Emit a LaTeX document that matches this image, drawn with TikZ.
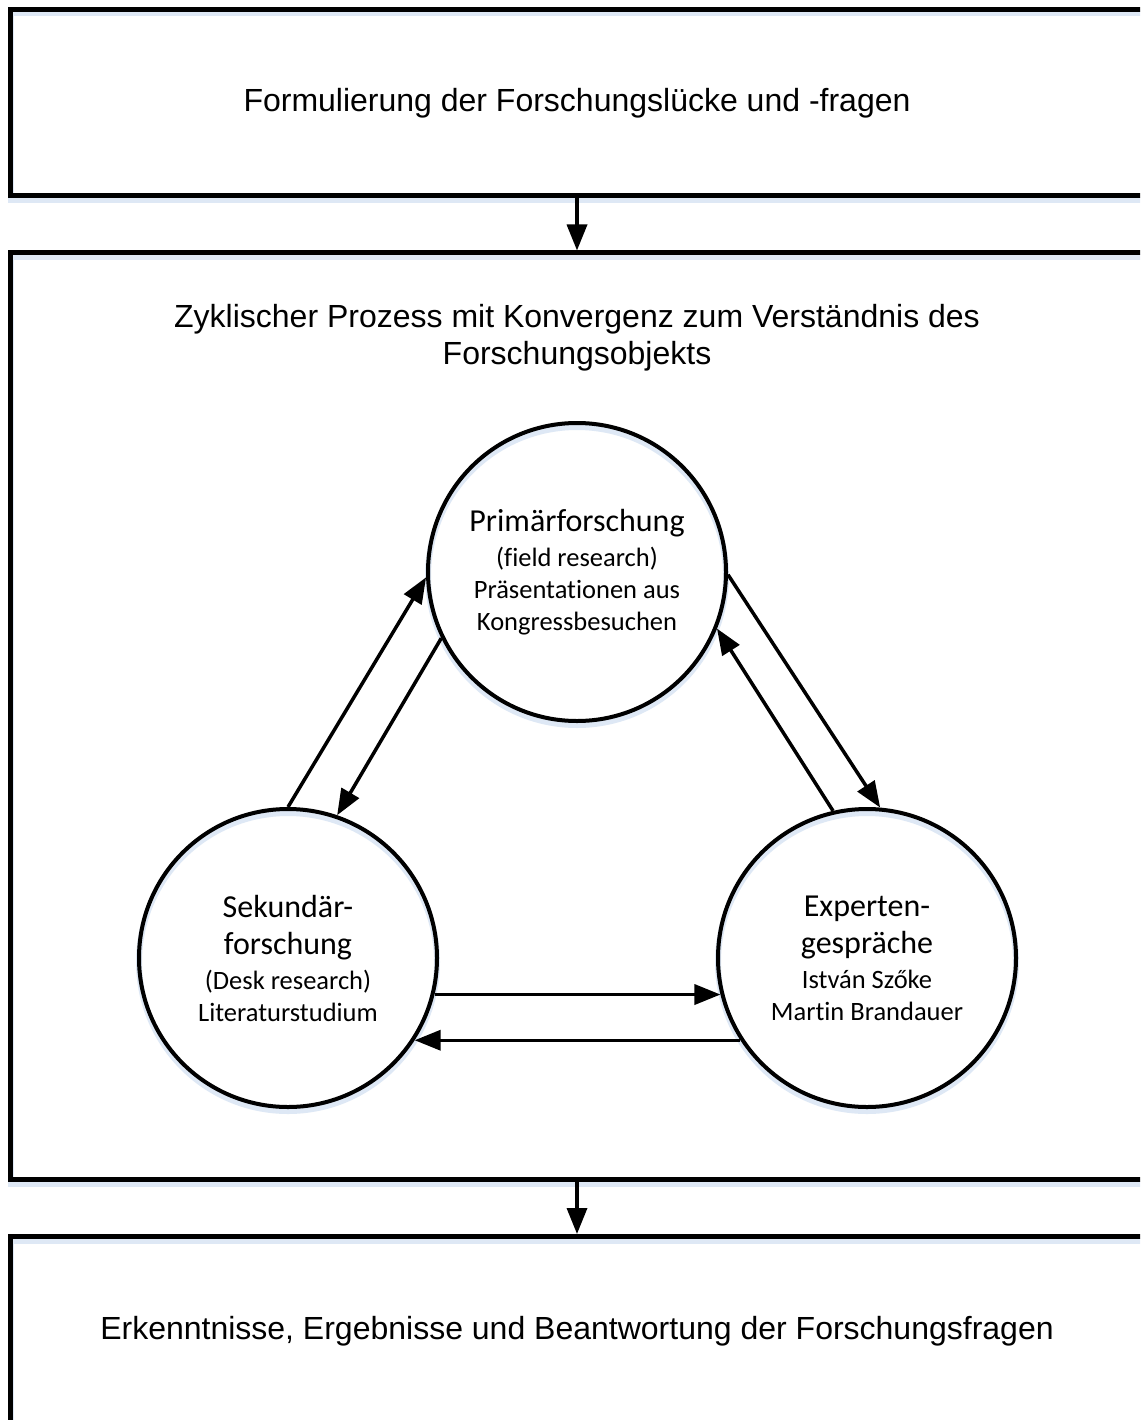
\documentclass[tikz,border=0pt]{standalone}
\usepackage{fontspec}
\setmainfont{Liberation Sans}
\newfontfamily\calib[Ligatures=CommonOff]{Carlito}
\usetikzlibrary{arrows.meta}
\definecolor{shadowblue}{RGB}{222,232,245}
\begin{document}
\begin{tikzpicture}[x=1pt,y=-1pt,
  shadowed/.style={preaction={draw=shadowblue, line width=6pt, transform canvas={yshift=-4pt}}},
  boxnode/.style={shadowed, draw, line width=5pt, minimum width=1133pt, inner sep=0pt, font=\fontsize{32}{37}\selectfont},
  circ/.style={shadowed, draw, circle, line width=4pt, minimum size=298pt, inner sep=0pt, align=center, font=\calib\fontsize{26.5}{32}\selectfont},
  bigtext/.style={},
  conn/.style={line width=3.5pt, -{Triangle[length=26pt,width=20pt]}},
]
\useasboundingbox (0,0) rectangle (1140,1420);
\clip (0,0) rectangle (1140,1420);
\fill[white] (0,0) rectangle (1140,1420);

\node[boxnode, minimum height=186.5pt] (b1) at (577,102.75) {Formulierung der Forschungslücke und -fragen};
\node[boxnode, minimum height=926.5pt] (b2) at (577,716.25) {};
\node[boxnode, minimum height=189pt] (b3) at (577,1331) {Erkenntnisse, Ergebnisse und Beantwortung der Forschungsfragen};

\node[align=center, font=\fontsize{32}{37}\selectfont] (title) at (577,338) {Zyklischer Prozess mit Konvergenz zum Verständnis des\\Forschungsobjekts};

\node[circ] (tp) at (577,572) {{\fontsize{32}{36}\selectfont Primärforschung}\\[3pt](field research)\\Präsentationen aus\\Kongressbesuchen};
\node[circ] (ls) at (288,958) {{\fontsize{32}{36}\selectfont Sekundär-}\\[5pt]{\fontsize{32}{36}\selectfont forschung}\\[3pt](Desk research)\\Literaturstudium};
\node[circ] (rs) at (867,958) {{\fontsize{32}{36}\selectfont Experten-}\\[5pt]{\fontsize{32}{36}\selectfont gespräche}\\[3pt]István Szőke\\Martin Brandauer};

\draw[conn] (b1.south) -- (b2.north);
\draw[conn] (b2.south) -- (b3.north);

\draw[conn] (ls.90) -- (tp.182);
\draw[conn] (tp.206) -- (ls.71);
\draw[conn] (tp.-1) -- (rs.85);
\draw[conn] (rs.103) -- (tp.-22);
\draw[conn] (ls.-14) -- (rs.194);
\draw[conn] (rs.213) -- (ls.-33);
\end{tikzpicture}
\end{document}
